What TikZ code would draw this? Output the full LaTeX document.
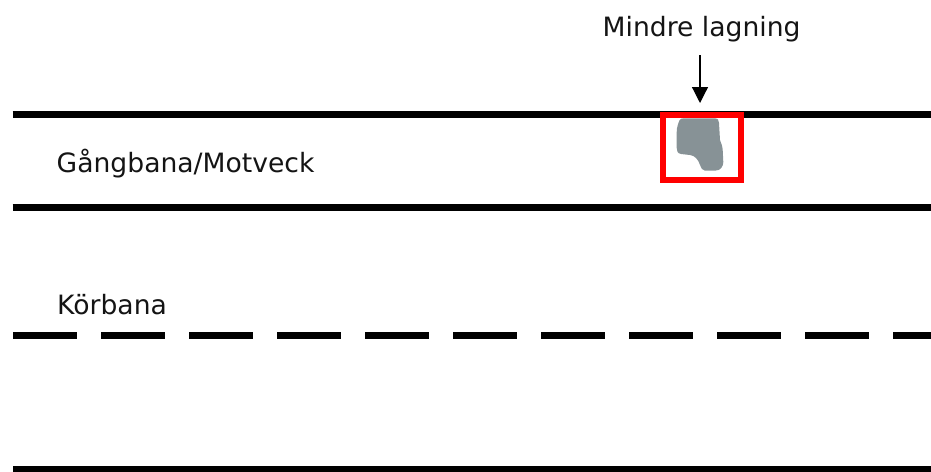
\documentclass[tikz,border=0pt]{standalone}
\usepackage{fontspec}
\setmainfont{DejaVu Sans}
\usetikzlibrary{arrows.meta}
\definecolor{patchgray}{RGB}{135,146,150}
\definecolor{boxred}{RGB}{255,0,0}
\tikzset{
  roadline/.style={line width=7pt, black},
  centerline/.style={line width=7.5pt, black, dash pattern=on 64pt off 24pt},
  lbl/.style={anchor=base west, inner sep=0pt, font=\fontsize{26.6}{30}\selectfont, text=black!92},
  markbox/.style={draw=boxred, line width=6pt},
  patch/.style={fill=patchgray, draw=none},
  pointer/.style={line width=1.2pt, -{Triangle[length=16pt,width=16pt]}}
}
\begin{document}
\begin{tikzpicture}[x=1pt,y=-1pt]
\useasboundingbox (0,0) rectangle (931,471);
\clip (0,0) rectangle (931,471);
% lines
\draw[roadline] (12.5,114.5) -- (931,114.5);
\draw[roadline] (12.5,207) -- (931,207);
\draw[centerline] (13,335.5) -- (931,335.5);
\draw[roadline] (13,469.5) -- (931,469.5);
% patch
\fill[patch] (679.3,120.7) .. controls (680,118.5) and (682,118.3) .. (684,118.3)
  -- (714,118.3) .. controls (718,118.3) and (719,120) .. (719,123)
  -- (720,140) .. controls (721,143) and (722.5,146) .. (722.7,150)
  -- (723.3,162) .. controls (723.3,166) and (721,170.7) .. (715,170.7)
  -- (705,170.7) .. controls (702.5,170.7) and (701,168) .. (700,165)
  .. controls (698.5,160) and (695,155.5) .. (690,155)
  -- (681,154) .. controls (677.5,153.5) and (676.7,151) .. (676.7,148)
  -- (676.7,132) .. controls (676.7,127) and (678.5,123) .. (679.3,120.7) -- cycle;
% red box
\node[markbox, minimum width=78pt, minimum height=65pt, inner sep=0pt] (box) at (702,147.2) {};
% labels
\node[lbl] (mindre) at (602.5,36.5) {Mindre lagning};
\node[lbl] (gang) at (56.5,172.5) {Gångbana/Motveck};
\node[lbl] (korb) at (57,314.3) {Körbana};
% arrow
\coordinate (arrtop) at (700,55);
\coordinate (arrtip) at (700,103);
\draw[pointer] (arrtop) -- (arrtip);
\end{tikzpicture}
\end{document}
